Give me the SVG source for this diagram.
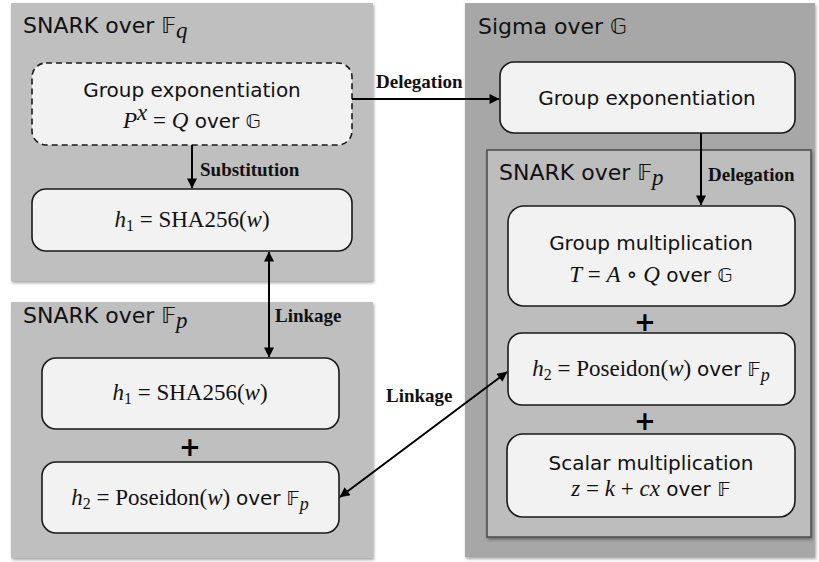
<svg xmlns="http://www.w3.org/2000/svg" width="819" height="562" viewBox="0 0 819 562">
<style>
.panel{fill:#bfbfbf;}
.sigma{fill:#a7a7a7;}
.inner{fill:#bdbdbd;stroke:#4a4a4a;stroke-width:1.5;}
.node{fill:#f2f2f2;stroke:#1a1a1a;stroke-width:1.6;}
.dashed{stroke-dasharray:6 4;}
.title{font-family:"DejaVu Sans",sans-serif;font-size:22px;fill:#111;}
.t{font-family:"DejaVu Sans",sans-serif;font-size:20px;fill:#111;}
.m{font-family:"Liberation Serif","DejaVu Serif",serif;font-size:23px;fill:#111;}
.i{font-style:italic;}
.ds{font-family:"DejaVu Sans",sans-serif;}
.lbl{font-family:"Liberation Serif",serif;font-weight:bold;font-size:19px;fill:#111;}
.plus{font-family:"DejaVu Sans",sans-serif;font-weight:bold;font-size:26px;fill:#000;}
.conn{stroke:#000;stroke-width:2;fill:none;}
</style>
<defs>
<marker id="ah" viewBox="0 0 10 10" refX="9.5" refY="5" markerWidth="5.5" markerHeight="5" orient="auto-start-reverse" markerUnits="strokeWidth">
<path d="M0,0 L10,5 L0,10 z" fill="#000"/>
</marker>
<filter id="sh" x="-5%" y="-5%" width="110%" height="110%">
<feDropShadow dx="1" dy="2" stdDeviation="1.5" flood-color="#000" flood-opacity="0.35"/>
</filter>
</defs>

<g id="panel-snark-fq">
<rect class="panel" x="11" y="3" width="362" height="278" filter="url(#sh)"/>
<text class="title" x="23" y="33">SNARK over <tspan class="ds">𝔽</tspan><tspan class="m i" font-size="18" dy="5">q</tspan></text>
</g>

<g id="panel-snark-fp-left">
<rect class="panel" x="11" y="302" width="362" height="256" filter="url(#sh)"/>
<text class="title" x="23" y="323">SNARK over <tspan class="ds">𝔽</tspan><tspan class="m i" font-size="18" dy="5">p</tspan></text>
</g>

<g id="panel-sigma">
<rect class="sigma" x="465" y="3" width="350" height="554" filter="url(#sh)"/>
<text class="title" x="478" y="34">Sigma over <tspan class="ds">𝔾</tspan></text>
</g>

<g id="panel-snark-fp-inner">
<rect class="inner" x="487" y="150" width="324" height="387" filter="url(#sh)"/>
<text class="title" x="499" y="180">SNARK over <tspan class="ds">𝔽</tspan><tspan class="m i" font-size="18" dy="5">p</tspan></text>
</g>

<g id="node-group-exp-left">
<rect class="node dashed" x="32" y="63" width="320" height="82" rx="14"/>
<text class="t" x="192" y="97" text-anchor="middle">Group exponentiation</text>
<text class="t" x="192" y="128" text-anchor="middle"><tspan class="m i">P</tspan><tspan class="m i" font-size="14" dy="-8">x</tspan><tspan class="m" dy="8"> = </tspan><tspan class="m i">Q</tspan> over <tspan class="ds">𝔾</tspan></text>
</g>

<g id="node-h1-top">
<rect class="node" x="32" y="189" width="320" height="62" rx="14"/>
<text class="m" x="192" y="227" text-anchor="middle"><tspan class="i">h</tspan><tspan font-size="16" dy="4">1</tspan><tspan dy="-4"> = SHA256(</tspan><tspan class="i">w</tspan>)</text>
</g>

<g id="node-h1-bottom">
<rect class="node" x="42" y="358" width="297" height="71" rx="14"/>
<text class="m" x="190" y="400" text-anchor="middle"><tspan class="i">h</tspan><tspan font-size="16" dy="4">1</tspan><tspan dy="-4"> = SHA256(</tspan><tspan class="i">w</tspan>)</text>
</g>

<g id="plus-left">
<text class="plus" x="190" y="456" text-anchor="middle">+</text>
</g>

<g id="node-h2-left">
<rect class="node" x="42" y="462" width="297" height="71" rx="14"/>
<text class="m" x="190" y="505" text-anchor="middle"><tspan class="i">h</tspan><tspan font-size="16" dy="4">2</tspan><tspan dy="-4"> = Poseidon(</tspan><tspan class="i">w</tspan>) <tspan class="t">over</tspan> <tspan class="ds" font-size="20">𝔽</tspan><tspan class="i" font-size="18" dy="5">p</tspan></text>
</g>

<g id="node-group-exp-right">
<rect class="node" x="500" y="62" width="295" height="71" rx="14"/>
<text class="t" x="647" y="105" text-anchor="middle">Group exponentiation</text>
</g>

<g id="node-group-mult">
<rect class="node" x="508" y="206" width="287" height="100" rx="16"/>
<text class="t" x="651" y="250" text-anchor="middle">Group multiplication</text>
<text class="t" x="651" y="282" text-anchor="middle"><tspan class="m i">T</tspan><tspan class="m"> = </tspan><tspan class="m i">A</tspan><tspan class="m"> ∘ </tspan><tspan class="m i">Q</tspan> over <tspan class="ds">𝔾</tspan></text>
</g>

<g id="plus-right-1">
<text class="plus" x="645" y="331" text-anchor="middle">+</text>
</g>

<g id="node-h2-right">
<rect class="node" x="508" y="333" width="287" height="72" rx="14"/>
<text class="m" x="651" y="376" text-anchor="middle"><tspan class="i">h</tspan><tspan font-size="16" dy="4">2</tspan><tspan dy="-4"> = Poseidon(</tspan><tspan class="i">w</tspan>) <tspan class="t">over</tspan> <tspan class="ds" font-size="20">𝔽</tspan><tspan class="i" font-size="18" dy="5">p</tspan></text>
</g>

<g id="plus-right-2">
<text class="plus" x="645" y="430" text-anchor="middle">+</text>
</g>

<g id="node-scalar-mult">
<rect class="node" x="507" y="434" width="288" height="83" rx="16"/>
<text class="t" x="651" y="470" text-anchor="middle">Scalar multiplication</text>
<text class="t" x="651" y="496" text-anchor="middle"><tspan class="m i">z</tspan><tspan class="m"> = </tspan><tspan class="m i">k</tspan><tspan class="m"> + </tspan><tspan class="m i">cx</tspan> over <tspan class="ds">𝔽</tspan></text>
</g>

<g id="connectors">
<line class="conn" x1="192" y1="145" x2="192" y2="188" marker-end="url(#ah)"/>
<text class="lbl" x="200" y="176">Substitution</text>
<line class="conn" x1="352" y1="99" x2="499" y2="99" marker-end="url(#ah)"/>
<text class="lbl" x="376" y="88">Delegation</text>
<line class="conn" x1="701" y1="133" x2="701" y2="205" marker-end="url(#ah)"/>
<text class="lbl" x="708" y="181">Delegation</text>
<line class="conn" x1="269" y1="252" x2="269" y2="357" marker-start="url(#ah)" marker-end="url(#ah)"/>
<text class="lbl" x="275" y="322">Linkage</text>
<line class="conn" x1="340" y1="497" x2="507" y2="372" marker-start="url(#ah)" marker-end="url(#ah)"/>
<text class="lbl" x="386" y="402">Linkage</text>
</g>
</svg>
